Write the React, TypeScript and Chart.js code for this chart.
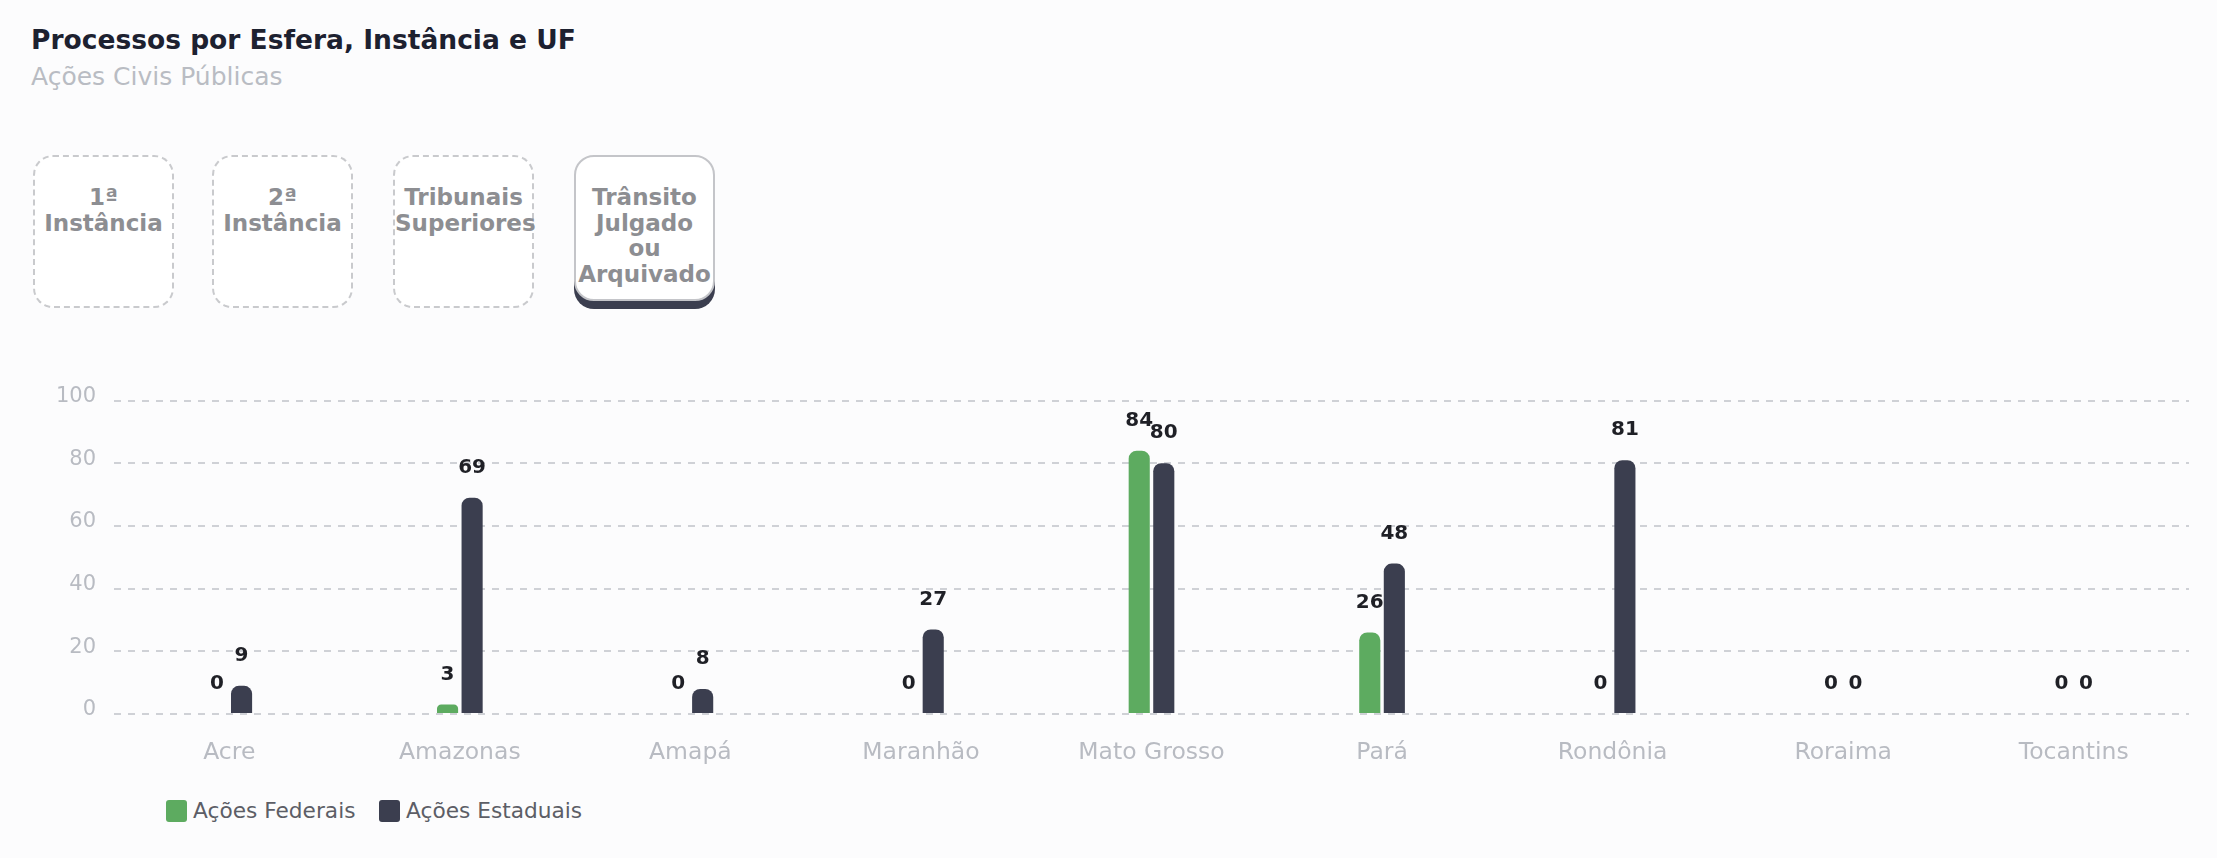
import React, { useEffect, useRef } from 'react';
import { Chart, registerables } from 'chart.js';

Chart.register(...registerables);

const FONT = "'DejaVu Sans', sans-serif";

const categories = ['Acre', 'Amazonas', 'Amapá', 'Maranhão', 'Mato Grosso', 'Pará', 'Rondônia', 'Roraima', 'Tocantins'];
const acoesFederais = [0, 3, 0, 0, 84, 26, 0, 0, 0];
const acoesEstaduais = [9, 69, 8, 27, 80, 48, 81, 0, 0];
const yTicks = [0, 20, 40, 60, 80, 100];
const seriesNames = ['Ações Federais', 'Ações Estaduais'];
const seriesColors = ['#5dab60', '#3b3e4f'];
const buttonLabels = [['1ª', 'Instância'], ['2ª', 'Instância'], ['Tribunais', 'Superiores'], ['Trânsito', 'Julgado', 'ou', 'Arquivado']];
const activeButton = 3;

const valueLabels = {
  id: 'valueLabels',
  afterDatasetsDraw(chart: any) {
    const ctx = chart.ctx;
    ctx.save();
    ctx.font = `bold 20px ${FONT}`;
    ctx.fillStyle = '#1f2026';
    ctx.textAlign = 'center';
    ctx.textBaseline = 'middle';
    chart.data.datasets.forEach((ds: any, i: number) => {
      const meta = chart.getDatasetMeta(i);
      meta.data.forEach((bar: any, j: number) => {
        ctx.fillText(String(ds.data[j]), bar.x, bar.y - 30);
      });
    });
    ctx.restore();
  },
};

function BarChart() {
  const ref = useRef<HTMLCanvasElement>(null);
  useEffect(() => {
    if (!ref.current) return;
    const chart = new Chart(ref.current, {
      type: 'bar',
      data: {
        labels: categories,
        datasets: [
          {
            label: seriesNames[0],
            data: acoesFederais,
            backgroundColor: seriesColors[0],
            borderRadius: 8,
            borderSkipped: 'bottom',
            categoryPercentage: 0.213,
            barPercentage: 0.86,
          },
          {
            label: seriesNames[1],
            data: acoesEstaduais,
            backgroundColor: seriesColors[1],
            borderRadius: 8,
            borderSkipped: 'bottom',
            categoryPercentage: 0.213,
            barPercentage: 0.86,
          },
        ],
      },
      options: {
        animation: false,
        responsive: false,
        devicePixelRatio: 1,
        layout: { padding: { top: 27, right: 28, bottom: 3, left: 0 } },
        plugins: { legend: { display: false }, tooltip: { enabled: false } },
        scales: {
          x: {
            grid: { display: false, drawTicks: false },
            border: { display: false },
            ticks: { color: '#b8bbc2', font: { family: FONT, size: 23.5 }, padding: 25 },
            afterFit: (axis: any) => {
              axis.height = 53;
            },
          },
          y: {
            min: 0,
            max: 100,
            afterBuildTicks: (axis: any) => {
              axis.ticks = yTicks.map((v) => ({ value: v }));
            },
            afterFit: (axis: any) => {
              axis.width = 114;
            },
            grid: { color: '#cfd1d6', lineWidth: 2, drawTicks: false },
            border: { display: false, dash: [7, 7] },
            ticks: { color: '#b8bbc2', font: { family: FONT, size: 21 }, padding: 18, labelOffset: -4 },
          },
        },
      },
      plugins: [valueLabels],
    });
    return () => chart.destroy();
  }, []);
  return <canvas ref={ref} width={2217} height={400} style={{ display: 'block', width: 2217, height: 400 }} />;
}

export default function App() {
  const btnLefts = [33, 212, 393, 574];
  return (
    <div style={{ position: 'absolute', left: 0, top: 0, width: 2217, height: 858, background: '#fcfcfd', fontFamily: FONT, overflow: 'hidden' }}>
      <div style={{ position: 'absolute', left: 31, top: 25, fontSize: 26.5, lineHeight: '30px', fontWeight: 700, color: '#1d2130', whiteSpace: 'nowrap' }}>
        Processos por Esfera, Instância e UF
      </div>
      <div style={{ position: 'absolute', left: 31, top: 63, fontSize: 25, lineHeight: '28px', fontWeight: 400, color: '#b9bcc3', whiteSpace: 'nowrap' }}>
        Ações Civis Públicas
      </div>
      {buttonLabels.map((lines, i) => {
        const active = i === activeButton;
        return (
          <div
            key={i}
            style={{
              position: 'absolute',
              left: btnLefts[i],
              top: 155,
              width: 141,
              height: active ? 146 : 153,
              boxSizing: 'border-box',
              border: active ? '2px solid #c4c5c9' : '2px dashed #c9cacd',
              borderRadius: 20,
              background: '#ffffff',
              boxShadow: active ? '0 8px 0 #3b3e4f' : 'none',
              paddingTop: 28,
              textAlign: 'center',
              color: '#8d8e92',
              fontWeight: 700,
              fontSize: 23,
              lineHeight: '25.5px',
              whiteSpace: 'nowrap',
            }}
          >
            {lines.map((l, k) => (
              <div key={k}>{l}</div>
            ))}
          </div>
        );
      })}
      <div style={{ position: 'absolute', left: 0, top: 370, width: 2217, height: 400 }}>
        <BarChart />
      </div>
      {seriesNames.map((name, i) => (
        <div key={name} style={{ position: 'absolute', left: i === 0 ? 166 : 379, top: 799, height: 24, display: 'flex', alignItems: 'center', whiteSpace: 'nowrap' }}>
          <div style={{ width: 21, height: 22, borderRadius: 3, background: seriesColors[i], marginRight: 6 }} />
          <span style={{ fontSize: 21.7, color: '#5c5e66', lineHeight: '24px' }}>{name}</span>
        </div>
      ))}
    </div>
  );
}
